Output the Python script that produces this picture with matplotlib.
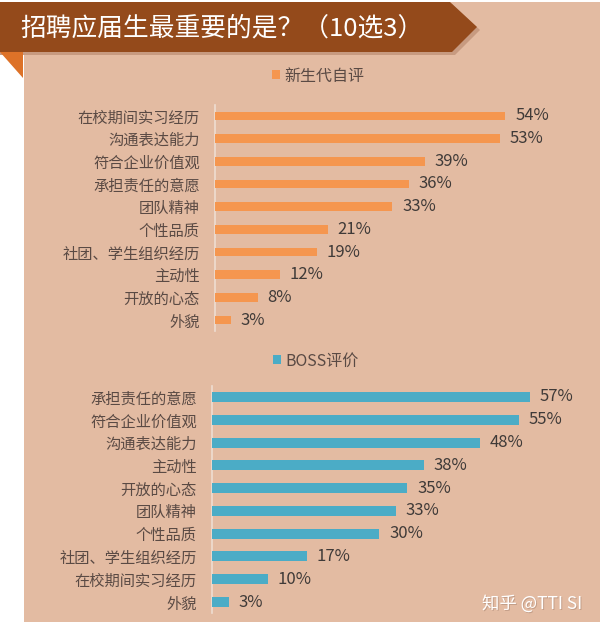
import matplotlib
matplotlib.use("Agg")
import matplotlib.pyplot as plt
from matplotlib.patches import Polygon

plt.rcParams['font.family'] = ['Noto Sans CJK SC', 'DejaVu Sans']

title = '招聘应届生最重要的是？（10选3）'
series_self = '新生代自评'
series_boss = 'BOSS评价'
cats_self = ['在校期间实习经历', '沟通表达能力', '符合企业价值观', '承担责任的意愿', '团队精神',
             '个性品质', '社团、学生组织经历', '主动性', '开放的心态', '外貌']
vals_self = [54, 53, 39, 36, 33, 21, 19, 12, 8, 3]
cats_boss = ['承担责任的意愿', '符合企业价值观', '沟通表达能力', '主动性', '开放的心态',
             '团队精神', '个性品质', '社团、学生组织经历', '在校期间实习经历', '外貌']
vals_boss = [57, 55, 48, 38, 35, 33, 30, 17, 10, 3]
watermark = '知乎 @TTI SI'

W, H = 600, 630
fig = plt.figure(figsize=(W / 100, H / 100), dpi=100)
fig.patch.set_facecolor('white')

BG = '#E3BBA2'
BANNER = '#944A1B'
FOLD = '#DD7228'
ORANGE = '#F5964F'
BLUE = '#4BACC6'
TICK = '#5A4A44'
VAL = '#3F3A38'


def fx(x):
    return x / W


def fy(y):
    return 1 - y / H


def poly(pts, color, z):
    fig.patches.append(Polygon([(fx(x), fy(y)) for x, y in pts], closed=True,
                               transform=fig.transFigure, facecolor=color,
                               edgecolor='none', zorder=z))


# panel background
poly([(24, 2), (600, 2), (600, 622), (24, 622)], BG, -10)
# banner shadow + banner
poly([(0, 4), (452, 4), (480, 30), (455, 55), (0, 55)], '#C79A80', -9)
poly([(0, 2), (450, 2), (477, 27), (452, 52), (0, 52)], BANNER, -8)
# fold
poly([(0, 52), (23, 52), (23, 78)], FOLD, -8)

fig.text(fx(20), fy(28), title, color='white', fontsize=18.5, va='center', ha='left',
         fontweight='medium', zorder=5)


def make_panel(left, top, bottom, right, xmax, cats, vals, color, label, leg_xy, bar_h):
    ax = fig.add_axes([fx(left), fy(bottom), fx(right) - fx(left), fy(top) - fy(bottom)])
    ax.set_facecolor('none')
    ax.set_zorder(1)
    n = len(cats)
    pos = list(range(n))
    bars = ax.barh(pos, vals, height=bar_h, color=color, label=label, zorder=3)
    ax.set_ylim(n - 0.5, -0.5)
    ax.set_xlim(0, xmax)
    ax.set_yticks(pos)
    ax.set_yticklabels(cats, fontsize=11, color=TICK)
    ax.tick_params(axis='y', length=0, pad=11)
    ax.set_xticks([])
    for s in ['top', 'right', 'bottom']:
        ax.spines[s].set_visible(False)
    ax.spines['left'].set_color('#EEDDD2')
    ax.spines['left'].set_linewidth(1.2)
    for p, v in zip(pos, vals):
        ax.annotate(f'{v}%', (v, p), xytext=(7, 0), textcoords='offset points',
                    va='center', ha='left', fontsize=12, color=VAL)
    fig.legend(handles=[bars], labels=[label], loc='center',
               bbox_to_anchor=(fx(leg_xy[0]), fy(leg_xy[1])), frameon=False,
               fontsize=11.5, labelcolor=TICK, handlelength=0.5, handleheight=0.5,
               handletextpad=0.3)
    return ax


make_panel(215, 104.6, 331.4, 600, 71.6, cats_self, vals_self, ORANGE, series_self,
           (318, 76), 0.38)
make_panel(212, 385.6, 613.4, 600, 69.5, cats_boss, vals_boss, BLUE, series_boss,
           (316, 361), 0.44)

fig.text(fx(533), fy(605), watermark, color='#8A6A5A', fontsize=12.5, ha='center',
         va='center', alpha=0.35, zorder=5)
fig.text(fx(532), fy(604), watermark, color='white', fontsize=12.5, ha='center',
         va='center', zorder=6)

fig.savefig('out.png', dpi=100, facecolor=fig.get_facecolor())
